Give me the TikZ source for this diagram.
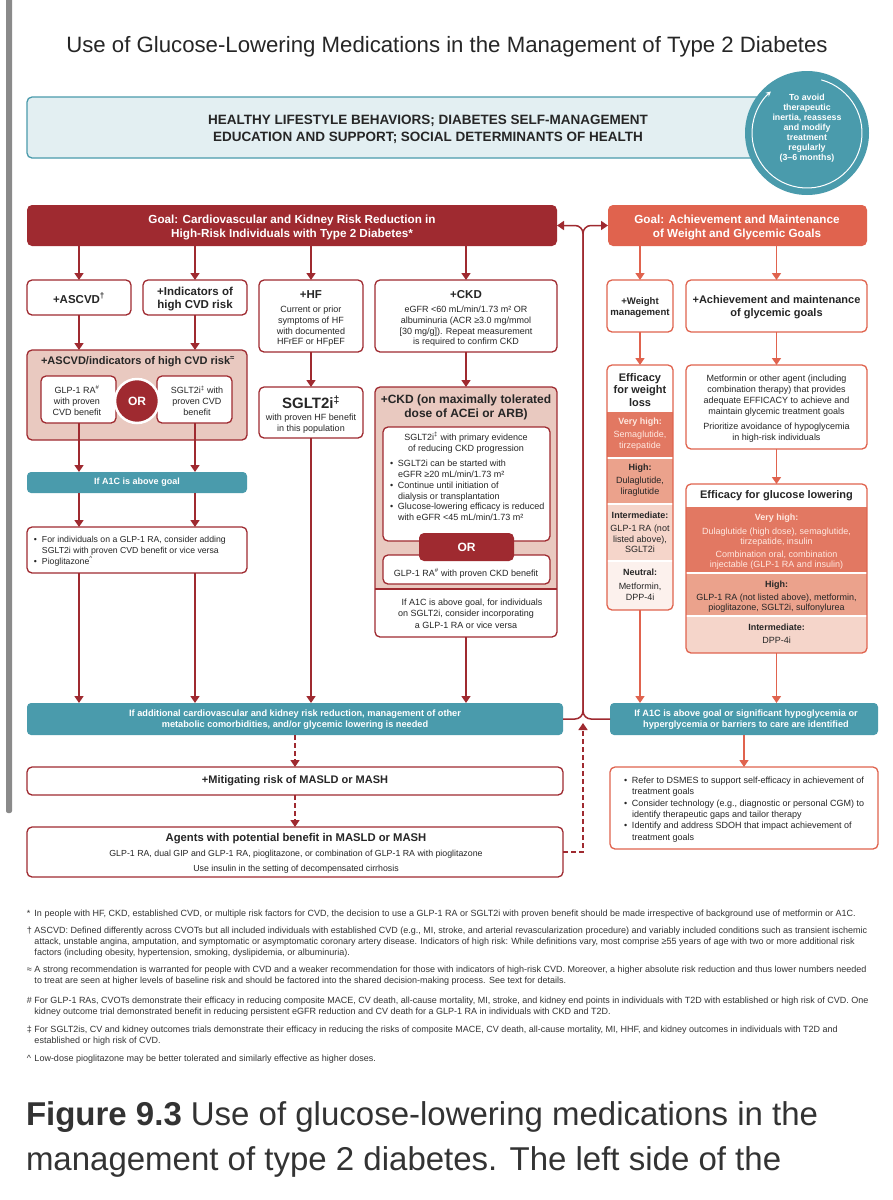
\documentclass[tikz,border=0pt]{standalone}
\usepackage{fontspec}
\setmainfont{Liberation Sans}
\usetikzlibrary{arrows.meta}
\definecolor{dred}{HTML}{9F2A30}
\definecolor{pinkf}{HTML}{E9C9C0}
\definecolor{tealc}{HTML}{4A9BAC}
\definecolor{lblue}{HTML}{E3EFF2}
\definecolor{coral}{HTML}{E0634E}
\definecolor{vhigh}{HTML}{E27862}
\definecolor{highc}{HTML}{EBA28C}
\definecolor{interc}{HTML}{F5D5CA}
\definecolor{neutc}{HTML}{FCF1ED}
\definecolor{txt}{HTML}{262626}
\definecolor{lighttxt}{HTML}{FFE8E0}
\definecolor{barg}{HTML}{8A8A8A}
\definecolor{captxt}{HTML}{333333}
\newcommand\fs[2]{\fontsize{#1}{#2}\selectfont}
\newcommand\bx[8][]{\node[#2,minimum width={(#5-#3)*1pt},minimum height={(#6-#4)*1pt},#1] (#7) at ({(#3+#5)/2},{(#4+#6)/2}) {#8};}
\newcommand\bu{\makebox[8pt][l]{\textbullet}}
\newcommand\ind{\hspace*{8pt}}
\newcommand\fnmk[1]{\makebox[7.5pt][l]{#1}}
\newcommand\fnin{\hspace*{7.5pt}}
\begin{document}
\begin{tikzpicture}[x=1pt,y=-1pt,
  every node/.style={inner sep=0pt,outer sep=0pt,text=txt},
  rbox/.style={draw=dred,line width=1.3pt,rounded corners=5pt,fill=white},
  obox/.style={draw=coral,line width=1.3pt,rounded corners=5pt,fill=white},
  pbox/.style={draw=dred,line width=1.3pt,rounded corners=5pt,fill=pinkf},
  tbar/.style={fill=tealc,rounded corners=4pt},
  hd/.style={font=\bfseries\fs{11.5}{13}, align=center},
  bd/.style={font=\fs{9}{10.7}, align=center},
  sm/.style={font=\fs{8.7}{11}, align=center},
  wt/.style={text=white, font=\bfseries\fs{9.2}{11}, align=center},
  arr/.style={draw=dred,line width=1.5pt,-{Triangle[width=9pt,length=7pt]}},
  oarr/.style={draw=coral,line width=1.5pt,-{Triangle[width=9pt,length=7pt]}},
  darr/.style={arr,dash pattern=on 5pt off 3pt},
  fn/.style={font=\fs{9}{11}, align=left, anchor=west, text=captxt}]
\fill[white] (0,0) rectangle (892,1200);
\useasboundingbox (0,0) rectangle (892,1200);
\fill[barg,rounded corners=2pt] (6,-10) rectangle (12,813);

% title
\node[font=\fs{22.2}{26}] (title) at (447,47) {Use of Glucose-Lowering Medications in the Management of Type 2 Diabetes};

% lifestyle
\bx{draw=tealc,fill=lblue,line width=1.3pt,rounded corners=5pt}{27}{97}{790}{158}{life}{}
\node[font=\bfseries\fs{13.5}{17},align=center] (lifet) at (428,129) {HEALTHY LIFESTYLE BEHAVIORS; DIABETES SELF-MANAGEMENT\\EDUCATION AND SUPPORT; SOCIAL DETERMINANTS OF HEALTH};
\node[circle,fill=tealc,minimum size=124pt] (circ) at (807,133) {};
\draw[white,line width=1pt,-{Stealth[length=5pt,width=5pt]}] ([shift={(75:55pt)}]circ.center) arc[start angle=75,end angle=-229,radius=55pt];
\node[text=white,font=\bfseries\fs{8.8}{10},align=center] (circt) at (807,128) {To avoid\\therapeutic\\inertia, reassess\\and modify\\treatment\\regularly\\(3–6 months)};

% goals
\bx{fill=dred,rounded corners=5pt}{27}{205}{557}{246}{gL}{}
\node[text=white,font=\bfseries\fs{11.7}{14.5},align=center] (gLt) at (292,227.5) {Goal: Cardiovascular and Kidney Risk Reduction in\\High-Risk Individuals with Type 2 Diabetes*};
\bx{fill=coral,rounded corners=5pt}{608}{205}{867}{246}{gR}{}
\node[text=white,font=\bfseries\fs{11.7}{14.5},align=center] (gRt) at (737,227.5) {Goal: Achievement and Maintenance\\of Weight and Glycemic Goals};

% row 2 left
\bx{rbox}{27}{280}{131}{315}{ascvd}{}
\node[hd] (ascvdt) at (79,298) {+ASCVD\textsuperscript{†}};
\bx{rbox}{143}{280}{247}{315}{indic}{}
\node[hd,font=\bfseries\fs{11.5}{12.5}] (indict) at (195,299) {+Indicators of\\high CVD risk};
\bx{rbox}{259}{280}{363}{352}{hf}{}
\node[hd] (hft) at (311,295) {+HF};
\node[bd] (hfb) at (311,326.5) {Current or prior\\symptoms of HF\\with documented\\HFrEF or HFpEF};
\bx{rbox}{375}{280}{557}{352}{ckd}{}
\node[hd] (ckdt) at (466,294.5) {+CKD};
\node[bd] (ckdb) at (466,326.5) {eGFR <60 mL/min/1.73 m² OR\\albuminuria (ACR ≥3.0 mg/mmol\\{[}30 mg/g{]}). Repeat measurement\\is required to confirm CKD};

% ASCVD pink box
\bx{pbox}{27}{350}{247}{440}{ascpink}{}
\node[font=\bfseries\fs{11}{13}] (ascpt) at (138,362) {+ASCVD/indicators of high CVD risk\textsuperscript{≈}};
\bx{rbox}{41}{376}{116}{423}{glp}{}
\node[bd] (glpt) at (77,400.5) {GLP-1 RA\textsuperscript{\#}\\with proven\\CVD benefit};
\bx{rbox}{157}{376}{232}{423}{sglt}{}
\node[bd] (sgltt) at (197,400.5) {SGLT2i\textsuperscript{‡} with\\proven CVD\\benefit};
\node[circle,fill=dred,draw=white,line width=2.5pt,minimum size=44pt,text=white,font=\bfseries\fs{12}{14}] (or1) at (137,401) {OR};

% HF SGLT2i
\bx{rbox}{259}{387}{363}{438}{sgltb}{}
\node[font=\bfseries\fs{15}{17}] (sgltbt) at (311,402) {SGLT2i\textsuperscript{‡}};
\node[bd] (sgltbb) at (311,424) {with proven HF benefit\\in this population};

% CKD big box
\begin{scope}
\clip[rounded corners=5pt] (375,387) rectangle (557,637);
\fill[pinkf] (375,387) rectangle (557,589);
\end{scope}
\bx[fill=none]{rbox}{375}{387}{557}{637}{ckdbig}{}
\draw[dred,line width=1.3pt] (375,589) -- (557,589);
\node[font=\bfseries\fs{12}{13.5},align=center] (ckdbt) at (466,407.5) {+CKD (on maximally tolerated\\dose of ACEi or ARB)};
\bx{rbox}{383}{427}{550}{541}{ckdin1}{}
\node[bd] (ckdin1t) at (466,442.5) {SGLT2i\textsuperscript{‡} with primary evidence\\of reducing CKD progression};
\node[bd,align=left,anchor=west] (ckdin1b) at (390,490.5) {\bu SGLT2i can be started with\\\ind eGFR ≥20 mL/min/1.73 m²\\\bu Continue until initiation of\\\ind dialysis or transplantation\\\bu Glucose-lowering efficacy is reduced\\\ind with eGFR <45 mL/min/1.73 m²};
\bx{rbox}{383}{555}{550}{584}{ckdin2}{}
\node[fill=dred,rounded corners=5pt,minimum width=95pt,minimum height=28pt,text=white,font=\bfseries\fs{12}{14}] (or2) at (466.5,547) {OR};
\node[bd] (ckdin2t) at (466,573) {GLP-1 RA\textsuperscript{\#} with proven CKD benefit};
\node[bd,font=\fs{9}{11.5}] (ckdlow) at (466,613.5) {\hspace*{12pt}If A1C is above goal, for individuals\\on SGLT2i, consider incorporating\\a GLP-1 RA or vice versa};

% A1C bar and bullets
\bx{tbar}{27}{472}{247}{493}{a1c}{}
\node[wt,font=\bfseries\fs{9}{11}] (a1ct) at (137,482.5) {If A1C is above goal};
\bx{rbox}{27}{527}{247}{573}{bul1}{}
\node[sm,align=left,anchor=west] (bul1t) at (34,551) {\bu For individuals on a GLP-1 RA, consider adding\\\ind SGLT2i with proven CVD benefit or vice versa\\\bu Pioglitazone\textsuperscript{\textasciicircum}};

% right column
\bx{obox}{607}{280}{673}{332}{wm}{}
\node[font=\bfseries\fs{9.6}{11.5},align=center] (wmt) at (640,307.5) {+Weight\\management};
\bx{obox}{686}{280}{867}{332}{ach}{}
\node[font=\bfseries\fs{11}{12.5},align=center] (acht) at (776.5,307) {+Achievement and maintenance\\of glycemic goals};

% efficacy weight
\begin{scope}
\clip[rounded corners=5pt] (607,365) rectangle (673,610);
\fill[vhigh] (607,412) rectangle (673,458);
\fill[highc] (607,458) rectangle (673,504);
\fill[interc] (607,504) rectangle (673,561);
\fill[neutc] (607,561) rectangle (673,610);
\draw[white,line width=1.5pt] (607,458) -- (673,458) (607,504) -- (673,504) (607,561) -- (673,561);
\end{scope}
\bx[fill=none]{obox}{607}{365}{673}{610}{effw}{}
\node[font=\bfseries\fs{11}{12.8},align=center] (effwt) at (640,390) {Efficacy\\for weight\\loss};
\node[font=\bfseries\fs{9}{11},text=lighttxt] (vh1) at (640,422) {Very high:};
\node[bd,text=lighttxt] (vh1b) at (640,440.5) {Semaglutide,\\tirzepatide};
\node[font=\bfseries\fs{9}{11}] (hi1) at (640,468) {High:};
\node[bd] (hi1b) at (640,487) {Dulaglutide,\\liraglutide};
\node[font=\bfseries\fs{9}{11}] (in1) at (640,515) {Intermediate:};
\node[bd] (in1b) at (640,539) {GLP-1 RA (not\\listed above),\\SGLT2i};
\node[font=\bfseries\fs{9}{11}] (ne1) at (640,572) {Neutral:};
\node[bd] (ne1b) at (640,591.5) {Metformin,\\DPP-4i};

% metformin
\bx{obox}{686}{365}{867}{449}{met}{}
\node[sm,font=\fs{9}{11}] (mett) at (776.5,395.5) {Metformin or other agent (including\\combination therapy) that provides\\adequate EFFICACY to achieve and\\maintain glycemic treatment goals};
\node[sm,font=\fs{9}{11}] (metb) at (776.5,432.5) {Prioritize avoidance of hypoglycemia\\in high-risk individuals};

% efficacy glucose
\begin{scope}
\clip[rounded corners=5pt] (686,484) rectangle (867,653);
\fill[vhigh] (686,507) rectangle (867,573);
\fill[highc] (686,573) rectangle (867,616);
\fill[interc] (686,616) rectangle (867,653);
\draw[white,line width=1.5pt] (686,573) -- (867,573) (686,616) -- (867,616);
\end{scope}
\bx[fill=none]{obox}{686}{484}{867}{653}{effg}{}
\node[font=\bfseries\fs{11}{13}] (effgt) at (776.5,496) {Efficacy for glucose lowering};
\node[font=\bfseries\fs{9}{11},text=lighttxt] (vh2) at (776.5,518) {Very high:};
\node[sm,font=\fs{9}{10.5},text=lighttxt] (vh2a) at (776.5,537) {Dulaglutide (high dose), semaglutide,\\tirzepatide, insulin};
\node[sm,font=\fs{9}{10.5},text=lighttxt] (vh2b) at (776.5,560) {Combination oral, combination\\injectable (GLP-1 RA and insulin)};
\node[font=\bfseries\fs{9}{11}] (hi2) at (776.5,585) {High:};
\node[sm,font=\fs{9}{10.5}] (hi2b) at (776.5,603) {GLP-1 RA (not listed above), metformin,\\pioglitazone, SGLT2i, sulfonylurea};
\node[font=\bfseries\fs{9}{11}] (in2) at (776.5,627) {Intermediate:};
\node[sm,font=\fs{9}{11}] (in2b) at (776.5,640) {DPP-4i};

% bottom bars
\bx{tbar}{27}{703}{563}{735}{tealL}{}
\node[wt] (tealLt) at (295,719.5) {If additional cardiovascular and kidney risk reduction, management of other\\metabolic comorbidities, and/or glycemic lowering is needed};
\bx{tbar}{610}{703}{878}{735}{tealR}{}
\node[wt] (tealRt) at (746,719.5) {If A1C is above goal or significant hypoglycemia or\\hyperglycemia or barriers to care are identified};

\bx{rbox}{27}{767}{563}{795}{masld}{}
\node[font=\bfseries\fs{11}{13}] (masldt) at (295,781) {+Mitigating risk of MASLD or MASH};
\bx{rbox}{27}{827}{563}{877}{agents}{}
\node[font=\bfseries\fs{11.25}{13}] (agt1) at (296,839) {Agents with potential benefit in MASLD or MASH};
\node[font=\fs{8.8}{10}] (agt2) at (296,854.5) {GLP-1 RA, dual GIP and GLP-1 RA, pioglitazone, or combination of GLP-1 RA with pioglitazone};
\node[font=\fs{8.8}{10}] (agt3) at (296,869.5) {Use insulin in the setting of decompensated cirrhosis};

\bx{obox}{610}{767}{878}{849}{dsmes}{}
\node[font=\fs{9}{11.4},align=left,anchor=west] (dsmest) at (624,809.5) {\bu Refer to DSMES to support self-efficacy in achievement of\\\ind treatment goals\\\bu Consider technology (e.g., diagnostic or personal CGM) to\\\ind identify therapeutic gaps and tailor therapy\\\bu Identify and address SDOH that impact achievement of\\\ind treatment goals};

% connectors left
\draw[arr] (gL.south -| ascvd) -- (ascvd.north);
\draw[arr] (gL.south -| indic) -- (indic.north);
\draw[arr] (gL.south -| hf) -- (hf.north);
\draw[arr] (gL.south -| ckd) -- (ckd.north);
\draw[arr] (ascvd.south) -- (ascpink.north -| ascvd);
\draw[arr] (indic.south) -- (ascpink.north -| indic);
\draw[arr] (hf.south) -- (sgltb.north);
\draw[arr] (ckd.south) -- (ckdbig.north);
\draw[arr] (glp.south -| ascvd) -- (a1c.north -| ascvd);
\draw[arr] (sglt.south -| indic) -- (a1c.north -| indic);
\draw[arr] (a1c.south -| ascvd) -- (bul1.north -| ascvd);
\draw[arr] (a1c.south -| indic) -- (bul1.north -| indic);
\draw[arr] (bul1.south -| ascvd) -- (tealL.north -| ascvd);
\draw[arr] (bul1.south -| indic) -- (tealL.north -| indic);
\draw[arr] (sgltb.south) -- (tealL.north -| sgltb);
\draw[arr] (ckdbig.south) -- (tealL.north -| ckdbig);
% connectors right
\draw[oarr] (gR.south -| wm) -- (wm.north);
\draw[oarr] (gR.south -| ach) -- (ach.north);
\draw[oarr] (wm.south) -- (effw.north);
\draw[oarr] (ach.south) -- (met.north);
\draw[oarr] (met.south) -- (effg.north);
\draw[oarr] (effw.south) -- (tealR.north -| effw);
\draw[oarr] (effg.south) -- (tealR.north -| effg);
\draw[oarr] (tealR.south) -- (dsmes.north);
% dashed
\draw[darr] (tealL.south) -- (masld.north);
\draw[darr] (masld.south) -- (agents.north);
% loop
\coordinate (jt) at (583,225.5);
\coordinate (jb) at (583,719);
\coordinate (jd) at (583,852);
\coordinate (ja) at (583,723);
\draw[arr,rounded corners=8pt] (tealL.east) -- (jb) -- (jt) -- (gL.east);
\draw[arr,rounded corners=8pt] (tealR.west) -- (jb) -- (jt) -- (gR.west);
\draw[darr] (agents.east) -- (jd) -- (ja);

% footnotes
\node[fn] (f1) at (27,914) {\fnmk{*}In people with HF, CKD, established CVD, or multiple risk factors for CVD, the decision to use a GLP-1 RA or SGLT2i with proven benefit should be made irrespective of background use of metformin or A1C.};
\node[fn] (f2) at (27,942) {\fnmk{†}ASCVD: Defined differently across CVOTs but all included individuals with established CVD (e.g., MI, stroke, and arterial revascularization procedure) and variably included conditions such as transient ischemic\\\fnin attack, unstable angina, amputation, and symptomatic or asymptomatic coronary artery disease. Indicators of high risk: While definitions vary, most comprise ≥55 years of age with two or more additional risk\\\fnin factors (including obesity, hypertension, smoking, dyslipidemia, or albuminuria).};
\node[fn] (f3) at (27,975.75) {\fnmk{≈}A strong recommendation is warranted for people with CVD and a weaker recommendation for those with indicators of high-risk CVD. Moreover, a higher absolute risk reduction and thus lower numbers needed\\\fnin to treat are seen at higher levels of baseline risk and should be factored into the shared decision-making process. See text for details.};
\node[fn] (f4) at (27,1006.25) {\fnmk{\#}For GLP-1 RAs, CVOTs demonstrate their efficacy in reducing composite MACE, CV death, all-cause mortality, MI, stroke, and kidney end points in individuals with T2D with established or high risk of CVD. One\\\fnin kidney outcome trial demonstrated benefit in reducing persistent eGFR reduction and CV death for a GLP-1 RA in individuals with CKD and T2D.};
\node[fn] (f5) at (27,1036) {\fnmk{‡}For SGLT2is, CV and kidney outcomes trials demonstrate their efficacy in reducing the risks of composite MACE, CV death, all-cause mortality, MI, HHF, and kidney outcomes in individuals with T2D and\\\fnin established or high risk of CVD.};
\node[fn] (f6) at (27,1059) {\fnmk{\textasciicircum}Low-dose pioglitazone may be better tolerated and similarly effective as higher doses.};

% caption
\node[anchor=base west,font=\fs{33}{40},text=captxt] (cap1) at (26,1125) {\textbf{Figure 9.3}\hspace{9pt}Use of glucose-lowering medications in the};
\node[anchor=base west,font=\fs{33}{40},text=captxt] (cap2) at (26,1170) {management of type 2 diabetes. The left side of the};
\end{tikzpicture}
\end{document}
